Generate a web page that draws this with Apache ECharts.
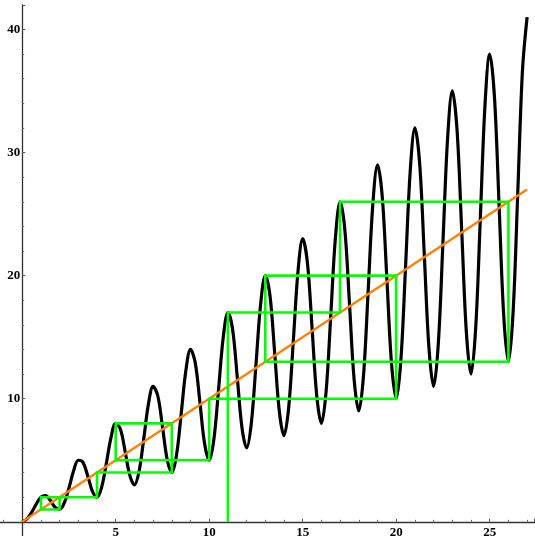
<!DOCTYPE html>
<html>
<head>
<meta charset="utf-8">
<script src="https://cdn.jsdelivr.net/npm/echarts@6/dist/echarts.min.js"></script>
<style>html,body{margin:0;padding:0;background:#fff}#c{width:535px;height:536px}</style>
</head>
<body>
<div id="c"></div>
<script>
// Curve samples (x step 0.25)
var curveX = [0,0.25,0.5,0.75,1,1.25,1.5,1.75,2,2.25,2.5,2.75,3,3.25,3.5,3.75,4,4.25,4.5,4.75,5,5.25,5.5,5.75,6,6.25,6.5,6.75,7,7.25,7.5,7.75,8,8.25,8.5,8.75,9,9.25,9.5,9.75,10,10.25,10.5,10.75,11,11.25,11.5,11.75,12,12.25,12.5,12.75,13,13.25,13.5,13.75,14,14.25,14.5,14.75,15,15.25,15.5,15.75,16,16.25,16.5,16.75,17,17.25,17.5,17.75,18,18.25,18.5,18.75,19,19.25,19.5,19.75,20,20.25,20.5,20.75,21,21.25,21.5,21.75,22,22.25,22.5,22.75,23,23.25,23.5,23.75,24,24.25,24.5,24.75,25,25.25,25.5,25.75,26,26.25,26.5,26.75,27];
var curveY = [0,0.23,0.75,1.44, 2,2.12,1.75,1.20, 1,1.53,2.75,4.15, 5,4.83,3.75,2.50, 2,2.82,4.75,6.86, 8,7.53,5.75,3.79, 3,4.11,6.75,9.56, 11,10.24,7.75,5.08, 4,5.41,8.75,12.27, 14,12.95,9.75,6.38, 5,6.70,10.75,14.98, 17,15.65,11.75,7.67, 6,7.99,12.75,17.68, 20,18.36,13.75,8.96, 7,9.29,14.75,20.39, 23,21.07,15.75,10.25, 8,10.58,16.75,23.10, 26,23.78,17.75,11.55, 9,11.87,18.75,25.81, 29,26.48,19.75,12.84, 10,13.16,20.75,28.51, 32,29.19,21.75,14.13, 11,14.46,22.75,31.22, 35,31.90,23.75,15.43, 12,15.75,24.75,33.93, 38,34.60,25.75,16.72, 13,17.04,26.75,36.63, 41];
// Diagonal y = x
var diagX = [0, 27];
var diagY = [0, 27];
// Cobweb path starting at 11
var cobX = [11,11,17,17,26,26,13,13,20,20,10,10,5,5,8,8,4,4,2,2,1,1,2];
var cobY = [0,17,17,26,26,13,13,20,20,10,10,5,5,8,8,4,4,2,2,1,1,2,2];
// Tick labels
var xTickLabels = [5,10,15,20,25];
var yTickLabels = [10,20,30,40];

function zip(a,b){var r=[];for(var i=0;i<a.length;i++)r.push([a[i],b[i]]);return r;}

var chart = echarts.init(document.getElementById('c'), null, {renderer:'canvas'});
var labelFont = {fontFamily:'Liberation Serif', fontWeight:'bold', fontSize:13, color:'#000'};
chart.setOption({
  animation:false,
  backgroundColor:'#fff',
  grid:{left:-71.3, top:4.8, width:605.9, height:640.1, containLabel:false, outerBoundsMode:'none'},
  xAxis:{
    type:'value', min:-5, max:27.4, interval:5, position:'bottom', offset:-123.1,
    splitLine:{show:false},
    axisLine:{show:true, onZero:false, lineStyle:{color:'#333', width:1.3}},
    axisTick:{show:true, inside:true, length:3, lineStyle:{color:'#555', width:1}},
    minorTick:{show:true, splitNumber:5, length:2, lineStyle:{color:'#666', width:1}},
    axisLabel:Object.assign({margin:4, formatter:function(v){return xTickLabels.indexOf(v)>=0?String(v):'';}}, labelFont)
  },
  yAxis:{
    type:'value', min:-10, max:42, interval:10, position:'left', offset:-93.5,
    splitLine:{show:false},
    axisLine:{show:true, onZero:false, lineStyle:{color:'#333', width:1.3}},
    axisTick:{show:true, inside:true, length:3, lineStyle:{color:'#555', width:1}},
    minorTick:{show:true, splitNumber:5, length:2, lineStyle:{color:'#666', width:1}},
    axisLabel:Object.assign({margin:2, formatter:function(v){return yTickLabels.indexOf(v)>=0?String(v):'';}}, labelFont)
  },
  series:[
    {type:'line', data:zip(curveX,curveY), smooth:0.35, showSymbol:false, symbol:'none',
     lineStyle:{color:'#000', width:3.2}, z:2},
    {type:'line', data:zip(diagX,diagY), showSymbol:false, symbol:'none',
     lineStyle:{color:'#ff8000', width:2.3}, z:3},
    {type:'line', data:zip(cobX,cobY), showSymbol:false, symbol:'none',
     lineStyle:{color:'#00ff00', width:2.6, join:'miter'}, z:4}
  ]
});
</script>
</body>
</html>
